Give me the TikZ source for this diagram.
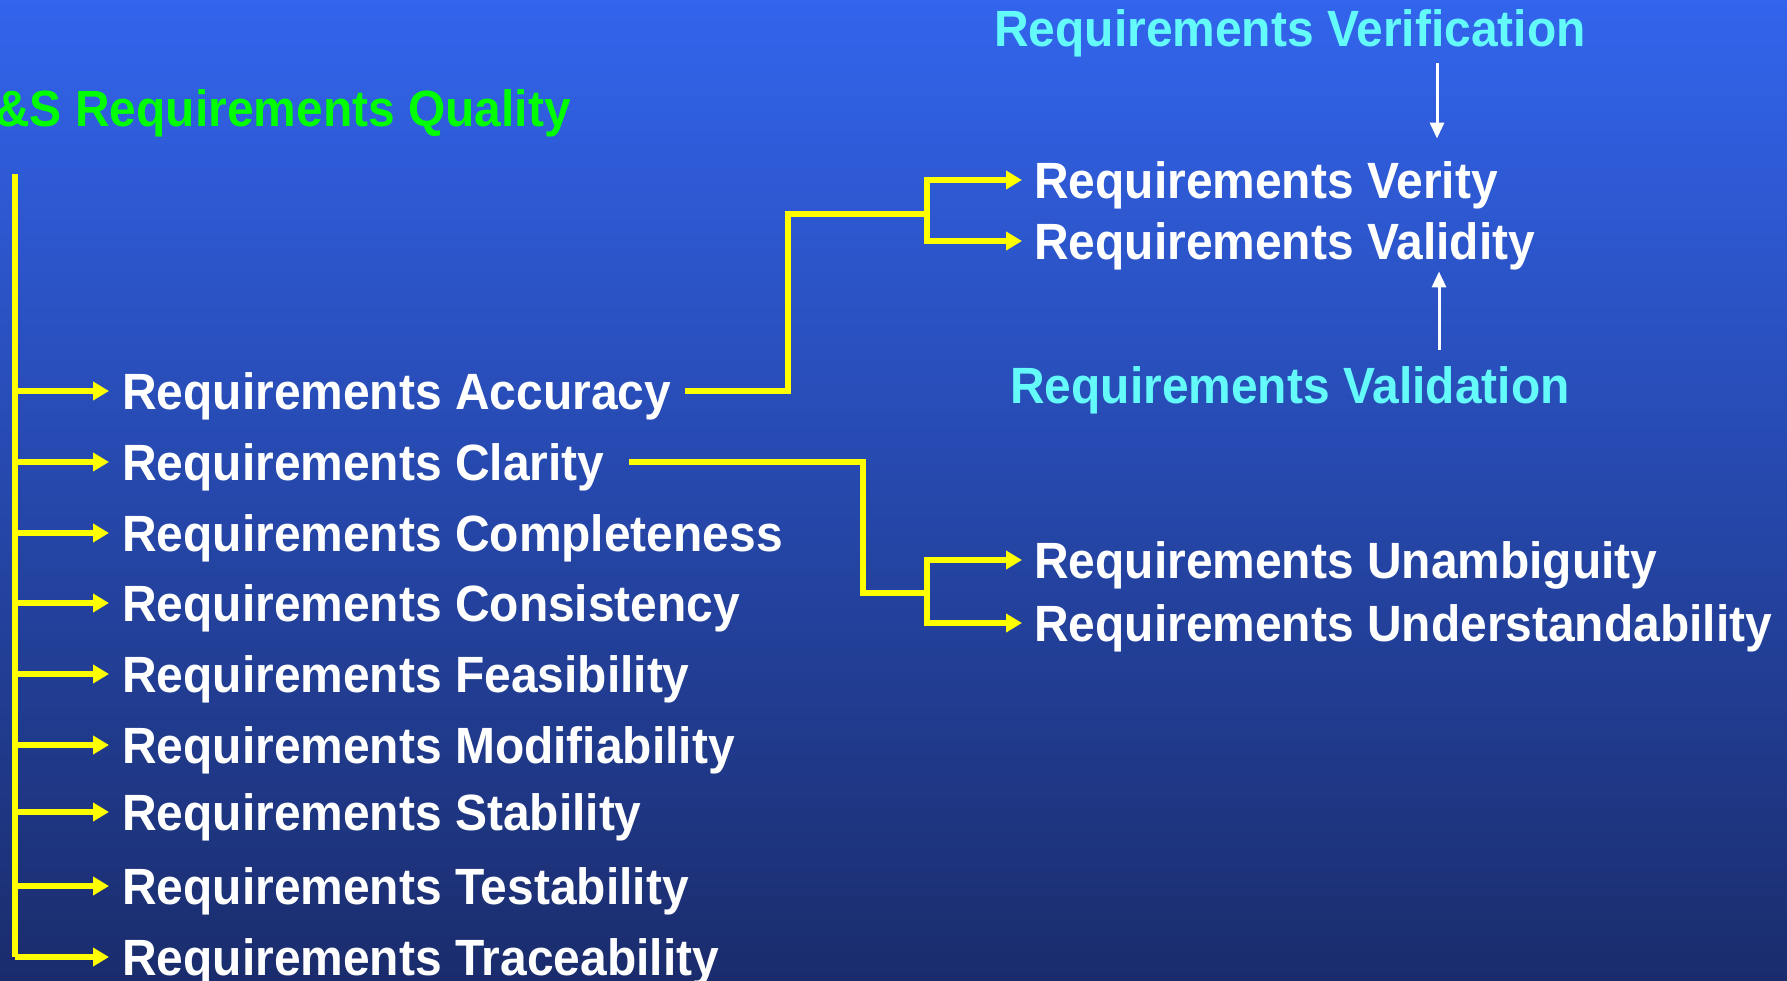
\documentclass[tikz,border=0pt]{standalone}
\usepackage{fontspec}
\newfontfamily\rqfont[FakeStretch=0.94]{Liberation Sans}
\usetikzlibrary{arrows.meta}
\definecolor{bgtop}{RGB}{50,100,236}
\definecolor{bgmid}{RGB}{40,76,190}
\definecolor{bgbot}{RGB}{26,44,108}
\definecolor{ylw}{RGB}{255,255,0}
\definecolor{grn}{RGB}{0,255,0}
\definecolor{cyn}{RGB}{100,250,250}
\begin{document}
\begin{tikzpicture}[x=1pt,y=-1pt,
  txt/.style={anchor=west, inner sep=0pt, text height=36.5pt, text depth=0pt,
    font=\rqfont\bfseries\fontsize{51}{60}\selectfont},
  lbl/.style={txt, text=white},
  cyanlbl/.style={txt, text=cyn},
  conn/.style={draw=ylw, line width=5.5pt},
  yarr/.style={conn, -{Triangle[length=16pt,width=18pt]}},
  warr/.style={draw=white, line width=3pt, -{Triangle[length=16pt,width=14pt]}}]
\shade[top color=bgtop, middle color=bgmid, bottom color=bgbot] (0,0) rectangle (1787,980);
\useasboundingbox (0,0) rectangle (1787,980);

% title
\node[txt, anchor=east, text=grn] (title) at (571,108) {\&S Requirements Quality};

% left list
\node[lbl] (acc) at (122,391) {Requirements Accuracy};
\node[lbl] (cla) at (122,462) {Requirements Clarity};
\node[lbl] (cmp) at (122,533) {Requirements Completeness};
\node[lbl] (cns) at (122,603) {Requirements Consistency};
\node[lbl] (fea) at (122,674) {Requirements Feasibility};
\node[lbl] (mod) at (122,745) {Requirements Modifiability};
\node[lbl] (sta) at (122,812) {Requirements Stability};
\node[lbl] (tes) at (122,886) {Requirements Testability};
\node[lbl] (tra) at (122,957) {Requirements Traceability};

% trunk
\coordinate (ttop) at (15,174);
\draw[conn] (ttop) -- (ttop |- tra.west);
\foreach \n in {acc,cla,cmp,cns,fea,mod,sta,tes,tra}
  \draw[yarr] (ttop |- \n.west) -- ([xshift=-13pt]\n.west);

% right list
\node[lbl] (ver) at (1034,180) {Requirements Verity};
\node[lbl] (val) at (1034,241) {Requirements Validity};
\node[lbl] (una) at (1034,560) {Requirements Unambiguity};
\node[lbl] (und) at (1034,623) {Requirements Understandability};

% accuracy branch
\coordinate (s1) at (685,391);
\coordinate (k1) at (788,214);
\coordinate (j1) at (927,214);
\draw[conn] (s1) -| (k1) -- (j1);
\draw[yarr] (j1) |- ([xshift=-12pt]ver.west);
\draw[yarr] (j1) |- ([xshift=-12pt]val.west);

% clarity branch
\coordinate (s2) at (629,462);
\coordinate (k2) at (863,593);
\coordinate (j2) at (927,593);
\draw[conn] (s2) -| (k2) -- (j2);
\draw[yarr] (j2) |- ([xshift=-12pt]una.west);
\draw[yarr] (j2) |- ([xshift=-12pt]und.west);

% verification / validation
\node[cyanlbl] (vrf) at (994,28) {Requirements Verification};
\node[cyanlbl] (vld) at (1010,385) {Requirements Validation};
\coordinate (w1) at (1437,0);
\coordinate (w2) at (1439,0);
\draw[warr] ([yshift=-17pt]vrf.south -| w1) -- ([yshift=23pt]ver.north -| w1);
\draw[warr] ([yshift=17pt]vld.north -| w2) -- ([yshift=-12pt]val.south -| w2);
\end{tikzpicture}
\end{document}
